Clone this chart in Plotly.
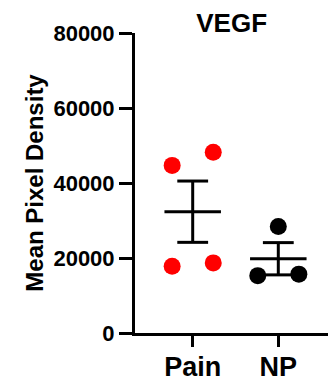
import numpy as np
import plotly.graph_objects as go

# ---- data ----
categories = ["Pain", "NP"]
pain_values = [44700, 48200, 17800, 18700]
np_values = [28400, 15300, 15700]
y_ticks = [0, 20000, 40000, 60000, 80000]
title_text = "VEGF"
y_title = "Mean Pixel Density"

groups = [pain_values, np_values]
colors = ["#FF0000", "#000000"]
spread = 0.24
offset_patterns = [[-1, 1, -1, 1], [0, -1, 1]]
mean_half = 0.33
cap_half = 0.18

FONT = "Liberation Sans"
W, H = 328, 375  # page body has an 8px margin

fig = go.Figure()

# mean and SEM lines
for i, vals in enumerate(groups):
    arr = np.array(vals, dtype=float)
    m = arr.mean()
    sem = arr.std(ddof=1) / np.sqrt(len(arr))
    xs = [i - mean_half, i + mean_half, None,
          i, i, None,
          i - cap_half, i + cap_half, None,
          i - cap_half, i + cap_half]
    ys = [m, m, None,
          m - sem, m + sem, None,
          m + sem, m + sem, None,
          m - sem, m - sem]
    fig.add_trace(go.Scatter(x=xs, y=ys, mode="lines",
                             line=dict(color="black", width=3),
                             hoverinfo="skip", showlegend=False))

# points
for i, vals in enumerate(groups):
    xs = [i + spread * o for o in offset_patterns[i]]
    fig.add_trace(go.Scatter(x=xs, y=vals, mode="markers",
                             marker=dict(color=colors[i], size=17, line=dict(width=0)),
                             showlegend=False, name=categories[i]))

fig.update_layout(
    width=W, height=H,
    margin=dict(l=127, r=0, t=25, b=50, autoexpand=False),
    plot_bgcolor="white", paper_bgcolor="white",
    font=dict(family=FONT, color="black"),
    title=dict(text="<b>" + title_text + "</b>", x=0.481, xref="paper", xanchor="center",
               y=1 - 14.5 / H, yref="container", yanchor="middle",
               font=dict(size=26, family=FONT, color="black")),
    showlegend=False,
)

fig.update_xaxes(
    range=[-0.674, 1.674],
    tickvals=[0, 1], ticktext=["<b>" + c + "</b>" for c in categories],
    showline=True, linecolor="black", linewidth=3,
    ticks="outside", ticklen=11, tickwidth=3, tickcolor="black",
    ticklabelstandoff=-3,
    tickfont=dict(size=27, family=FONT, color="black"),
    showgrid=False, zeroline=False,
)
fig.update_yaxes(
    range=[0, 80000],
    tickvals=y_ticks, ticktext=["<b>" + str(v) + "</b>" for v in y_ticks],
    showline=True, linecolor="black", linewidth=3,
    ticks="outside", ticklen=13, tickwidth=3, tickcolor="black",
    tickfont=dict(size=22, family=FONT, color="black"),
    title=dict(text="<b>" + y_title + "</b>", standoff=4,
               font=dict(size=24, family=FONT, color="black")),
    showgrid=False, zeroline=False,
)

fig.write_html("out.html")
